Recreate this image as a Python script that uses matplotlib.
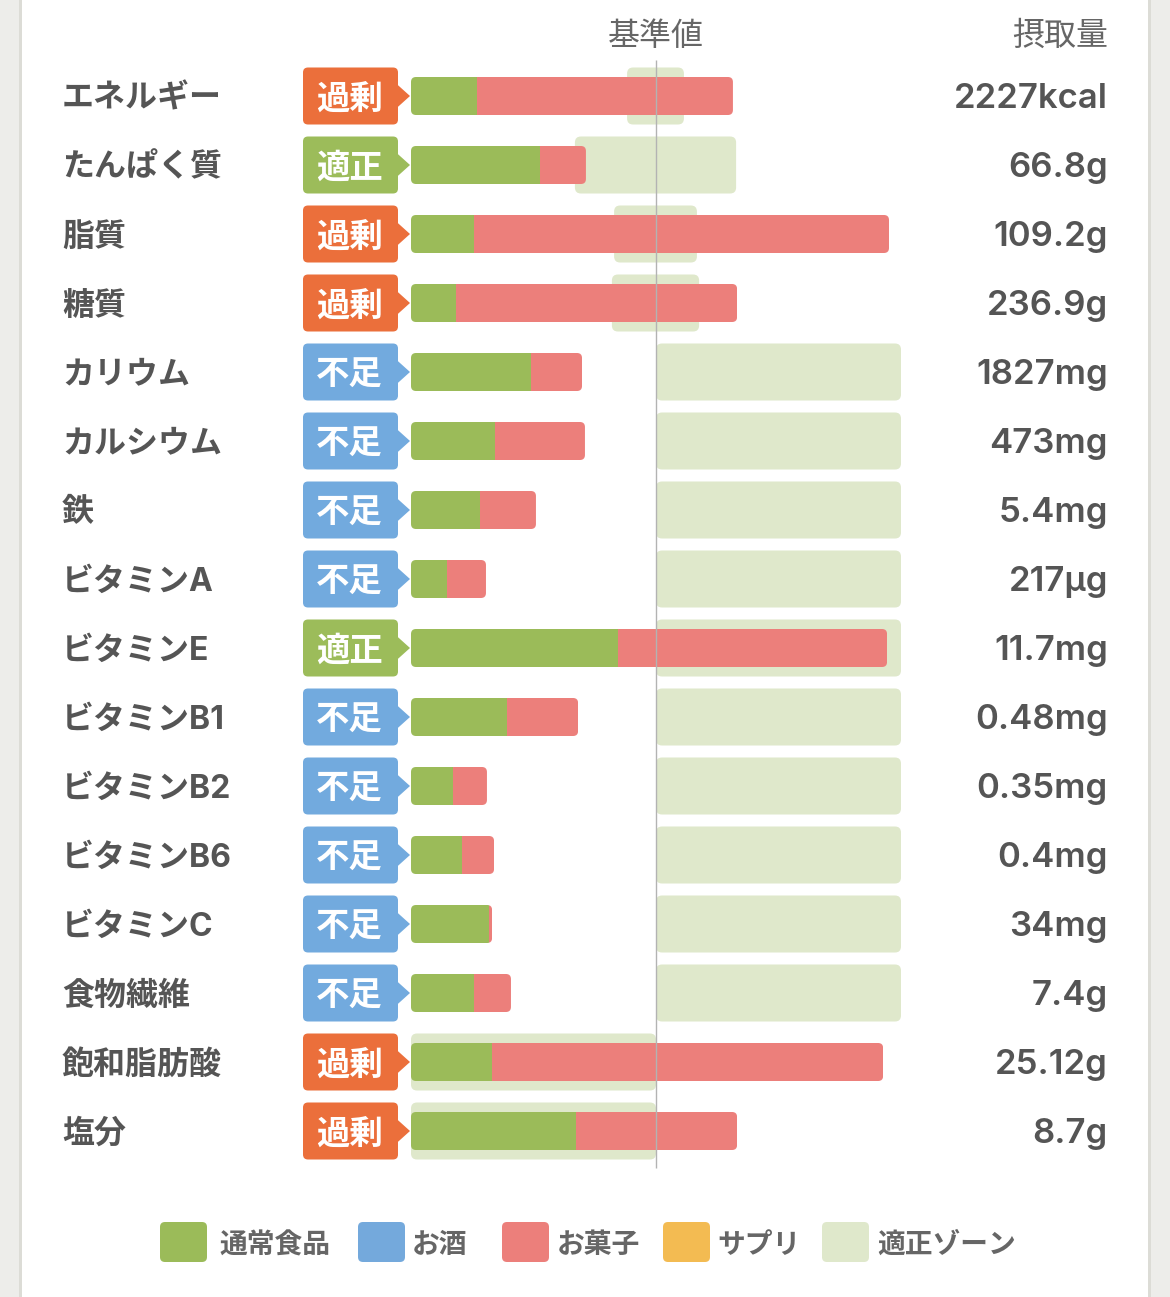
import matplotlib
matplotlib.use('Agg')
import matplotlib.pyplot as plt
from matplotlib.patches import FancyBboxPatch, Polygon, Rectangle
import matplotlib.transforms as mtransforms

plt.rcParams['font.family'] = ['Noto Sans CJK JP', 'DejaVu Sans']
LATIN = ['Inter', 'Noto Sans CJK JP', 'DejaVu Sans']

# ---------------- data ----------------
nutrients = ['エネルギー', 'たんぱく質', '脂質', '糖質', 'カリウム', 'カルシウム', '鉄',
             'ビタミンA', 'ビタミンE', 'ビタミンB1', 'ビタミンB2', 'ビタミンB6',
             'ビタミンC', '食物繊維', '飽和脂肪酸', '塩分']
status = ['過剰', '適正', '過剰', '過剰', '不足', '不足', '不足', '不足', '適正',
          '不足', '不足', '不足', '不足', '不足', '過剰', '過剰']
# percent of reference value (基準値 = 100)
food = [26.9, 52.7, 25.7, 18.4, 49.0, 34.3, 28.2, 14.7, 84.5, 39.2, 17.1, 20.8,
        31.8, 25.7, 33.1, 67.3]
snack = [104.5, 18.7, 169.4, 114.7, 20.8, 36.7, 22.8, 15.9, 109.8, 29.0, 13.9, 13.1,
         1.3, 15.1, 159.6, 65.8]
zone_lo = [88.2, 66.9, 82.9, 82.0, 100, 100, 100, 100, 100, 100, 100, 100, 100, 100, 0, 0]
zone_hi = [111.4, 132.7, 116.7, 117.6, 200, 200, 200, 200, 200, 200, 200, 200, 200, 200, 100, 100]
intake_labels = ['2227kcal', '66.8g', '109.2g', '236.9g', '1827mg', '473mg', '5.4mg',
                 '217µg', '11.7mg', '0.48mg', '0.35mg', '0.4mg', '34mg', '7.4g',
                 '25.12g', '8.7g']
legend_labels = ['通常食品', 'お酒', 'お菓子', 'サプリ', '適正ゾーン']

# ---------------- style ----------------
C_FOOD = '#9bbb59'
C_ALC = '#74a9dc'
C_SNACK = '#ec7f7b'
C_SUPP = '#f3bb52'
C_ZONE = '#dfe8cb'
C_TEXT = '#555555'
status_color = {'過剰': '#eb6f3b', '適正': '#9cbc5a', '不足': '#72aade'}

W, H = 1170, 1297
X0, XS = 411, 2.45      # pixel of 0 %, pixels per %
Y0, YS = 96, 69         # pixel of first row, pixels per row
DY = 3 / YS             # text baseline nudge

fig = plt.figure(figsize=(W / 100, H / 100), dpi=100)
fig.patch.set_facecolor('#ededea')
px = mtransforms.Affine2D().scale(1 / W, -1 / H).translate(0, 1) + fig.transFigure

fig.patches.append(Rectangle((19, 0), 1132, H, transform=px, facecolor='#dcdcd6',
                             edgecolor='none', zorder=-11))
fig.patches.append(Rectangle((22, 0), 1126, H, transform=px, facecolor='white',
                             edgecolor='none', zorder=-10))

ax = fig.add_axes([0, 0, 1, 1])
ax.set_facecolor('none')
ax.set_xlim(-X0 / XS, (W - X0) / XS)
ax.set_ylim((H - Y0) / YS, -Y0 / YS)
ax.axis('off')

MA = XS / YS


def rbox(x0, y0, w, h, r_px, **kw):
    return FancyBboxPatch((x0, y0), w, h,
                          boxstyle=f"round,pad=0,rounding_size={r_px / XS}",
                          mutation_aspect=MA, **kw)


bh = 38 / YS
zh = 57 / YS
n = len(nutrients)
rows = list(range(n))

# zones
for i in rows:
    ax.add_patch(rbox(zone_lo[i], i - zh / 2, zone_hi[i] - zone_lo[i], zh, 6,
                      facecolor=C_ZONE, edgecolor='none', zorder=1))

# stacked bars
bars_food = ax.barh(rows, food, height=bh, left=0, color=C_FOOD, zorder=2)
bars_snack = ax.barh(rows, snack, height=bh, left=food, color=C_SNACK, zorder=2)
for i in rows:
    clip = rbox(0, i - bh / 2, food[i] + snack[i], bh, 5, facecolor='none',
                edgecolor='none')
    ax.add_patch(clip)
    bars_food[i].set_clip_path(clip)
    bars_snack[i].set_clip_path(clip)

# reference line
ax.vlines(100, (60 - Y0) / YS, (1168 - Y0) / YS, color='#b3b3b3', lw=1, zorder=3)

# badges
bx0, bx1, tip = (303 - X0) / XS, (398 - X0) / XS, (410 - X0) / XS
bhgt = 57 / YS
for i in rows:
    col = status_color[status[i]]
    ax.add_patch(rbox(bx0, i - bhgt / 2, bx1 - bx0, bhgt, 5, facecolor=col,
                      edgecolor='none', zorder=2))
    ax.add_patch(Polygon([(bx1 - 1, i - 13 / YS), (tip, i), (bx1 - 1, i + 13 / YS)],
                         closed=True, facecolor=col, edgecolor='none', zorder=2))
    ax.text((bx0 + bx1) / 2 - 0.5, i + DY, status[i], color='white', fontsize=24,
            fontweight='bold', ha='center', va='center', zorder=4)

# labels & values
for i in rows:
    ax.text((62 - X0) / XS, i + DY, nutrients[i], color=C_TEXT, fontsize=23,
            fontweight='bold', ha='left', va='center', family=LATIN)
    ax.text((1108 - X0) / XS, i + DY, intake_labels[i], color=C_TEXT, fontsize=25,
            fontweight='semibold', ha='right', va='center', family=LATIN)

# headers
ax.text(100, (33 - Y0) / YS + DY, '基準値', color='#666666', fontsize=23,
        ha='center', va='center')
ax.text((1108 - X0) / XS, (33 - Y0) / YS + DY, '摂取量', color='#666666', fontsize=23,
        ha='right', va='center')

# legend
leg_colors = [C_FOOD, C_ALC, C_SNACK, C_SUPP, C_ZONE]
leg_sq_x = [160, 358, 502, 663, 822]
leg_tx_x = [219, 412, 557, 717, 877]
for lab, col, sx, tx in zip(legend_labels, leg_colors, leg_sq_x, leg_tx_x):
    fig.patches.append(FancyBboxPatch((sx, 1222), 47, 40,
                                      boxstyle="round,pad=0,rounding_size=5",
                                      transform=px, facecolor=col, edgecolor='none'))
    fig.text(tx, 1245, lab, transform=px, color='#666666', fontsize=20,
             fontweight='bold', ha='left', va='center')

fig.savefig('out.png', dpi=100, facecolor=fig.get_facecolor())
